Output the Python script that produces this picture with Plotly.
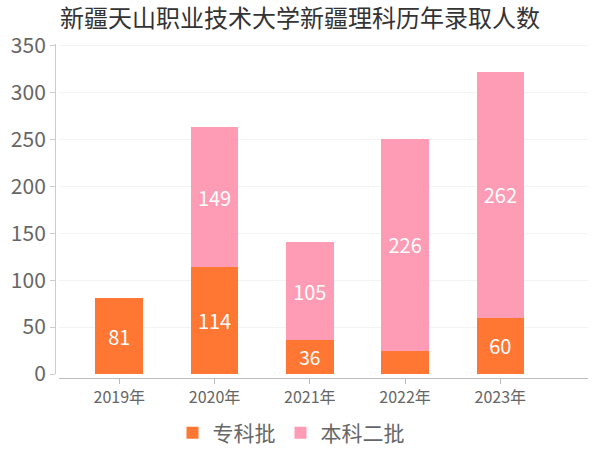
import plotly.graph_objects as go

years = ["2019年", "2020年", "2021年", "2022年", "2023年"]
zhuanke = [81, 114, 36, 25, 60]
benke = [0, 149, 105, 226, 262]
zhuanke_labels = ["81", "114", "36", "", "60"]
benke_labels = ["", "149", "105", "226", "262"]
y_ticks = [0, 50, 100, 150, 200, 250, 300, 350]

FONT = "Noto Sans CJK SC, Noto Sans, sans-serif"
ORANGE = "#FF7733"
PINK = "#FF9CB5"

fig = go.Figure()
fig.add_trace(go.Bar(
    name="专科批", x=years, y=zhuanke, text=zhuanke_labels,
    marker=dict(color=ORANGE, line=dict(width=0)),
    textposition="inside", insidetextanchor="middle", textangle=0,
    textfont=dict(color="white", size=20, family=FONT),
    width=0.5,
))
fig.add_trace(go.Bar(
    name="本科二批", x=years, y=benke, text=benke_labels,
    marker=dict(color=PINK, line=dict(width=0)),
    textposition="inside", insidetextanchor="middle", textangle=0,
    textfont=dict(color="white", size=20, family=FONT),
    width=0.5,
))

fig.update_layout(
    barmode="stack",
    width=600, height=450,
    paper_bgcolor="white", plot_bgcolor="white",
    margin=dict(l=55, r=12, t=44, b=72, autoexpand=False),
    font=dict(family=FONT, color="#666666"),
    title=dict(
        text="新疆天山职业技术大学新疆理科历年录取人数",
        font=dict(size=24, color="#333333", family=FONT),
        xref="container", yref="container",
        x=60 / 600, xanchor="left", y=1 - 19 / 450, yanchor="middle",
    ),
    xaxis=dict(
        domain=[4 / 533, 1], anchor="free", position=0,
        range=[-0.633, 4.92],
        showline=True, linecolor="#BBBBBB", linewidth=1,
        ticks="outside", ticklen=5, tickcolor="#BBBBBB",
        tickfont=dict(size=16, color="#666666", family=FONT),
        showgrid=False,
    ),
    yaxis=dict(
        domain=[4 / 334, 1], anchor="free", position=0,
        range=[0, 352],
        tickvals=y_ticks,
        showline=True, linecolor="#CCCCCC", linewidth=1,
        ticks="outside", ticklen=5, tickcolor="#CCCCCC",
        tickfont=dict(size=21, color="#666666", family=FONT),
        showgrid=True, gridcolor="#F3F3F3", gridwidth=1,
        zeroline=False,
    ),
    legend=dict(
        orientation="h", x=0.485, xanchor="center",
        xref="container", yref="container",
        y=1 - 433 / 450, yanchor="middle",
        font=dict(size=21, color="#666666", family=FONT),
        itemwidth=30, traceorder="normal",
    ),
)

fig.write_html("out.html", config={"displayModeBar": False})
with open("out.html", "r", encoding="utf-8") as f:
    html = f.read()
html = html.replace("<body>", '<body style="margin:0;padding:0;">', 1)
with open("out.html", "w", encoding="utf-8") as f:
    f.write(html)
